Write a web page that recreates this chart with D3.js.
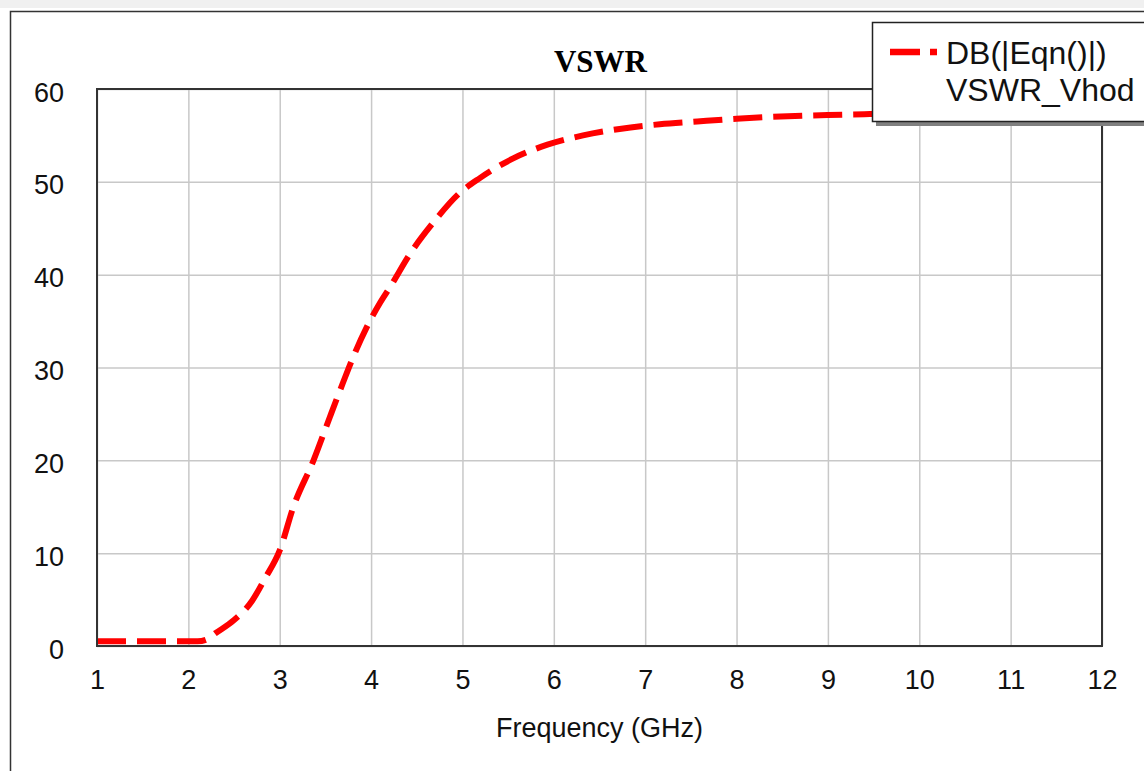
<!DOCTYPE html>
<html>
<head>
<meta charset="utf-8">
<script src="https://cdn.jsdelivr.net/npm/d3@7"></script>
<style>
  body { margin: 0; background: #fff; }
  svg { display: block; }
</style>
</head>
<body>
<div id="chart"></div>
<script>
// VSWR curve
const freqGHz = [1.0, 1.5, 2.0, 2.1, 2.2, 2.3, 2.5, 2.7, 2.84, 3.0, 3.15, 3.37, 3.55, 3.69, 3.79, 3.95, 4.1, 4.21, 4.43, 4.68, 4.97, 5.19, 5.55, 5.93, 6.32, 6.72, 7.16, 7.57, 8.0, 8.4, 9.0, 9.46, 10.0, 11.0, 12.0];
const vswrDb  = [0.5, 0.5, 0.5, 0.5, 0.7, 1.4, 2.8, 4.9, 7.3, 10.3, 15.0, 20.0, 24.7, 28.3, 30.8, 34.3, 37.0, 38.7, 42.3, 45.6, 48.8, 50.4, 52.5, 54.0, 55.0, 55.7, 56.2, 56.5, 56.8, 57.0, 57.2, 57.3, 57.4, 57.5, 57.5];

const xTicks = [1, 2, 3, 4, 5, 6, 7, 8, 9, 10, 11, 12];
const yTicks = [0, 10, 20, 30, 40, 50, 60];
const legendLines = ["DB(|Eqn()|)", "VSWR_Vhod"];

function drawChart(container, {width, height}) {
  const margin = {top: 89, right: 42, bottom: 125, left: 97};
  const w = width - margin.left - margin.right;
  const h = height - margin.top - margin.bottom;

  const root = d3.select(container).append("svg")
    .attr("width", width)
    .attr("height", height);

  // window-ish frame
  root.append("rect").attr("x", 0).attr("y", 0).attr("width", width).attr("height", 8).attr("fill", "#f0f0f0");
  root.append("rect")
    .attr("x", 10.5).attr("y", 11.5)
    .attr("width", width).attr("height", height)
    .attr("fill", "none").attr("stroke", "#333").attr("stroke-width", 1.5);

  const x = d3.scaleLinear().domain([1, 12]).range([0, w]);
  const y = d3.scaleLinear().domain([0, 60]).range([h, 0]);

  const svg = root.append("g").attr("transform", `translate(${margin.left},${margin.top})`);

  // grid
  svg.append("g")
    .call(d3.axisBottom(x).tickValues(xTicks).tickSize(h).tickFormat(""))
    .call(g => g.select(".domain").remove())
    .selectAll("line").attr("stroke", "#c8c8c8").attr("stroke-width", 1.5);
  svg.append("g")
    .call(d3.axisLeft(y).tickValues(yTicks).tickSize(-w).tickFormat(""))
    .call(g => g.select(".domain").remove())
    .selectAll("line").attr("stroke", "#c8c8c8").attr("stroke-width", 1.5);

  // tick labels
  svg.append("g")
    .attr("transform", `translate(0,${h})`)
    .call(d3.axisBottom(x).tickValues(xTicks).tickSize(0).tickPadding(0).tickFormat(d3.format("d")))
    .call(g => g.select(".domain").remove())
    .selectAll("text")
      .attr("y", 43)
      .attr("dy", 0)
      .attr("fill", "#111")
      .style("font-family", "'Liberation Sans', Arial, sans-serif")
      .style("font-size", "27px");

  svg.append("g")
    .call(d3.axisLeft(y).tickValues(yTicks).tickSize(0).tickPadding(0).tickFormat(d3.format("d")))
    .call(g => g.select(".domain").remove())
    .selectAll("text")
      .attr("x", -33)
      .attr("dy", "0.45em")
      .attr("fill", "#111")
      .style("font-family", "'Liberation Sans', Arial, sans-serif")
      .style("font-size", "27px");

  // curve
  const line = d3.line()
    .x((d, i) => x(freqGHz[i]))
    .y(d => y(d))
    .curve(d3.curveMonotoneX);

  svg.append("path")
    .datum(vswrDb)
    .attr("d", line)
    .attr("fill", "none")
    .attr("stroke", "#ff0000")
    .attr("stroke-width", 6)
    .attr("stroke-dasharray", "29,11");

  // plot border
  svg.append("rect")
    .attr("x", 0).attr("y", 0).attr("width", w).attr("height", h)
    .attr("fill", "none").attr("stroke", "#333").attr("stroke-width", 2);

  // titles
  root.append("text")
    .attr("x", margin.left + w / 2 + 1)
    .attr("y", 72)
    .attr("text-anchor", "middle")
    .style("font-family", "'Liberation Serif', 'Times New Roman', serif")
    .style("font-weight", "bold")
    .style("font-size", "31px")
    .text("VSWR");

  root.append("text")
    .attr("x", margin.left + w / 2)
    .attr("y", 737)
    .attr("text-anchor", "middle")
    .attr("fill", "#111")
    .style("font-family", "'Liberation Sans', Arial, sans-serif")
    .style("font-size", "27px")
    .text("Frequency (GHz)");

  // legend
  const lg = root.append("g");
  lg.append("rect").attr("x", 876).attr("y", 26).attr("width", 300).attr("height", 100).attr("fill", "#808080");
  lg.append("rect")
    .attr("x", 872.5).attr("y", 22.5).attr("width", 300).attr("height", 99)
    .attr("fill", "#fff").attr("stroke", "#222").attr("stroke-width", 1.5);
  lg.append("line")
    .attr("x1", 890).attr("x2", 937).attr("y1", 52).attr("y2", 52)
    .attr("stroke", "#ff0000").attr("stroke-width", 6.5)
    .attr("stroke-dasharray", "30,10");
  lg.selectAll("text.leg")
    .data(legendLines)
    .join("text")
      .attr("class", "leg")
      .attr("x", 946)
      .attr("y", (d, i) => 64 + i * 37)
      .attr("fill", "#111")
      .style("font-family", "'Liberation Sans', Arial, sans-serif")
      .style("font-size", "32px")
      .text(d => d);

  return svg;
}

drawChart(document.getElementById("chart"), {width: 1144, height: 771});
</script>
</body>
</html>
